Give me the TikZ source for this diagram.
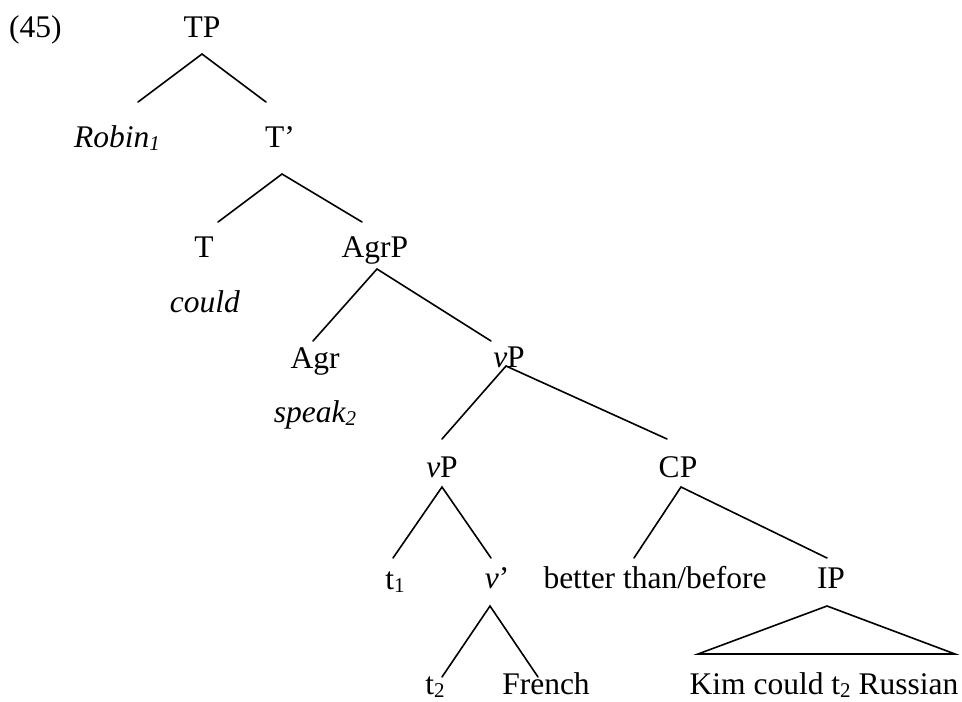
\documentclass[tikz,border=0pt]{standalone}
\usepackage{fontspec}
\setmainfont{Liberation Serif}
\usetikzlibrary{calc}

% small lowered index, as in the tree's traces
\newcommand{\subidx}[1]{\raisebox{-3pt}{\fontsize{21}{21}\selectfont #1}}

\begin{document}
\begin{tikzpicture}[
    x=1pt, y=-1pt,
    treenode/.style={anchor=base, inner sep=0pt, font=\fontsize{31.5}{36}\selectfont},
    branch/.style={line width=1.6pt, line cap=round},
]
\useasboundingbox (0,0) rectangle (962,702);

% --- Example number ---
\node[treenode, anchor=base west] (num) at (9,37) {(45)};

% --- Nodes, row by row ---
\node[treenode] (TP)     at (202,37)  {TP};
\node[treenode] (Robin)  at (117,147) {\textit{Robin\subidx{1}}};
\node[treenode] (Tbar)   at (280,147) {T’};
\node[treenode] (T)      at (204,257) {T};
\node[treenode] (could)  at (205,312) {\textit{could}};
\node[treenode] (AgrP)   at (375,257) {AgrP};
\node[treenode] (Agr)    at (315,368) {Agr};
\node[treenode] (speak)  at (315,422) {\textit{speak\subidx{2}}};
\node[treenode] (vPhi)   at (509,367) {\textit{v}P};
\node[treenode] (vPlo)   at (442,477) {\textit{v}P};
\node[treenode] (CP)     at (678,477) {CP};
\node[treenode] (t1)     at (395,589) {t\subidx{1}};
\node[treenode] (vbar)   at (497,588) {\textit{v}’};
\node[treenode] (better) at (655,588) {better than/before};
\node[treenode] (IP)     at (831,588) {IP};
\node[treenode] (t2)     at (435,694) {t\subidx{2}};
\node[treenode] (French) at (546,694) {French};
\node[treenode] (Kim)    at (824,694) {Kim could t\subidx{2} Russian};

% ===================== BRANCHES =====================

% TP
\draw[branch] ($(Robin.base)+(21,-45)$) -- ($(TP.base)+(0,17)$) -- ($(Tbar.base)+(-14,-45)$);

% T'
\draw[branch] ($(T.base)+(14,-35)$) -- ($(Tbar.base)+(2,27)$) -- ($(AgrP.base)+(-13,-35)$);

% AgrP
\draw[branch] ($(Agr.base)+(-2,-27)$) -- ($(AgrP.base)+(2,12)$) -- ($(vPhi.base)+(-18,-26)$);

% upper vP
\draw[branch] ($(vPlo.base)+(0,-38)$) -- ($(vPhi.base)+(-3,-1)$) -- ($(CP.base)+(-11,-38)$);

% lower vP
\draw[branch] ($(t1.base)+(-2,-31)$) -- ($(vPlo.base)+(0,10)$) -- ($(vbar.base)+(-6,-30)$);

% CP
\draw[branch] ($(better.base)+(-21,-30)$) -- ($(CP.base)+(3,10)$) -- ($(IP.base)+(-4,-30)$);

% v'
\draw[branch] ($(t2.base)+(7,-17)$) -- ($(vbar.base)+(-7,18)$) -- ($(French.base)+(-8,-17)$);

% IP (triangle over the clause)
\draw[branch, line join=miter] ($(IP.base)+(-4,18)$) -- ($(Kim.base)+(-126,-40)$)
    -- ($(Kim.base)+(131,-40)$) -- cycle;

\end{tikzpicture}
\end{document}
